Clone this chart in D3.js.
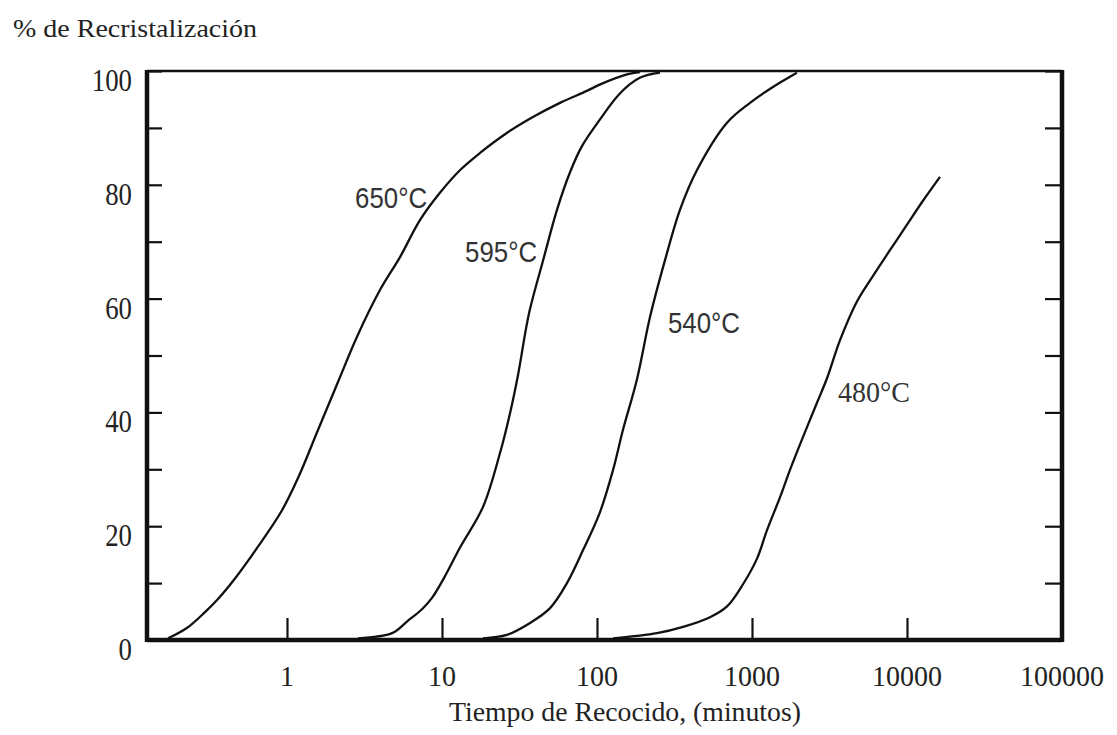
<!DOCTYPE html>
<html>
<head>
<meta charset="utf-8">
<title>% de Recristalización</title>
<script src="https://d3js.org/d3.v7.min.js"></script>
<style>
body { margin: 0; background: #fff; }
svg { display: block; }
</style>
</head>
<body>
<svg width="1117" height="735"></svg>
<script>
// curves: [tiempo (min), % recristalizado]
var curve650 = [[0.171,0.3],[0.226,2.1],[0.296,4.9],[0.359,7.2],[0.462,10.8],[0.65,16.4],[0.929,22.8],[1.18,28.5],[1.585,36.9],[2.13,45.3],[2.83,53.3],[3.98,61.5],[5.36,67.3],[7.21,73.8],[9.7,78.6],[13.1,82.6],[17.6,85.6],[26.2,89.1],[38.6,91.9],[57.7,94.4],[86.1,96.5],[104,97.6],[156,99.4],[189,99.8]];
var curve595 = [[2.87,0.3],[4.76,1.2],[6.04,3.4],[7.43,5.4],[8.62,7.4],[10.4,11.1],[13.1,16.3],[18.4,23.4],[23.7,32.9],[27.5,39.9],[30.9,46.5],[36.5,57.5],[44.8,66.6],[55.2,75.6],[67,82.2],[80,86.8],[104,91.4],[141,96.1],[189,98.8],[255,99.7]];
var curve540 = [[18.4,0.3],[26.2,0.9],[37,3.0],[49.8,5.6],[64,10],[81.3,15.8],[104,22.3],[127,29.9],[147,36.9],[181,45.8],[220,56.8],[275,66.8],[343,75.6],[442,82.6],[690,90.9],[971,94.4],[1365,97.2],[1950,99.7]];
var curve480 = [[127,0.3],[244,1.2],[359,2.3],[536,4.0],[690,5.9],[875,9.8],[1077,14.3],[1250,19.3],[1517,25.1],[1759,29.9],[2135,35.7],[2626,41.7],[3048,46.0],[3698,52.7],[4757,59.5],[6040,64.0],[7762,68.5],[10000,73.0],[12680,77.2],[16330,81.4]];

var curves = [curve650, curve595, curve540, curve480];
var curveNames = ["650\u00B0C", "595\u00B0C", "540\u00B0C", "480\u00B0C"];
var labelAt = [[2.75, 76], [14.1, 66.4], [287, 54], [3590, 41.8]]; // start of each label, data units

var xTicks = [1, 10, 100, 1000, 10000];
var xTickLabels = ["1", "10", "100", "1000", "10000", "100000"];
var xLabelValues = [1, 10, 100, 1000, 10000, 100000];
var yTicks = d3.range(0, 101, 10);
var yLabelValues = [0, 20, 40, 60, 80, 100];

var svg = d3.select("svg");
var box = {left: 147, right: 1062, top: 71, bottom: 640};

var x = d3.scaleLog().domain([0.125, 100000]).range([box.left, box.right]);
var y = d3.scaleLinear().domain([0, 100]).range([box.bottom, box.top]);

var serif = "'Liberation Serif', 'Times New Roman', serif";
var sans = "'Liberation Sans Narrow', 'Liberation Sans', Arial, sans-serif";

// inward ticks on left, right and bottom
var gl = svg.append("g").attr("transform", "translate(" + box.left + ",0)")
  .call(d3.axisRight(y).tickValues(yTicks).tickSize(15).tickFormat(""));
var gr = svg.append("g").attr("transform", "translate(" + box.right + ",0)")
  .call(d3.axisLeft(y).tickValues(yTicks).tickSize(17).tickFormat(""));
var gb = svg.append("g").attr("transform", "translate(0," + box.bottom + ")")
  .call(d3.axisTop(x).tickValues(xTicks).tickSize(22).tickFormat(""));
[gl, gr, gb].forEach(function (g) {
  g.select(".domain").remove();
  g.selectAll(".tick line").attr("stroke", "#111").attr("stroke-width", 2.2);
});

// frame
svg.append("line").attr("x1", box.left).attr("x2", box.right).attr("y1", box.top).attr("y2", box.top)
  .attr("stroke", "#111").attr("stroke-width", 2.5);
svg.append("line").attr("x1", box.left).attr("x2", box.right).attr("y1", box.bottom).attr("y2", box.bottom)
  .attr("stroke", "#111").attr("stroke-width", 4.5);
svg.append("line").attr("x1", box.left).attr("x2", box.left).attr("y1", box.top - 1).attr("y2", box.bottom + 2)
  .attr("stroke", "#111").attr("stroke-width", 4.5);
svg.append("line").attr("x1", box.right).attr("x2", box.right).attr("y1", box.top - 1).attr("y2", box.bottom + 2)
  .attr("stroke", "#111").attr("stroke-width", 4.5);

// tick labels
svg.selectAll(".ylab").data(yLabelValues).enter().append("text")
  .attr("x", 132)
  .attr("y", function (d) { return y(d) + 20; })
  .attr("text-anchor", "end")
  .attr("font-family", serif).attr("font-size", 31).attr("fill", "#222")
  .attr("textLength", function (d) { return String(d).length * 13.4; })
  .attr("lengthAdjust", "spacingAndGlyphs")
  .text(function (d) { return d; });

svg.selectAll(".xlab").data(xLabelValues).enter().append("text")
  .attr("x", function (d) { return x(d); })
  .attr("y", 686)
  .attr("text-anchor", "middle")
  .attr("font-family", serif).attr("font-size", 30).attr("fill", "#222")
  .attr("textLength", function (d, i) { return xTickLabels[i].length * 14; })
  .attr("lengthAdjust", "spacingAndGlyphs")
  .text(function (d, i) { return xTickLabels[i]; });

// curves
var line = d3.line()
  .x(function (d) { return x(d[0]); })
  .y(function (d) { return y(d[1]); })
  .curve(d3.curveCatmullRom.alpha(0.5));

svg.selectAll(".curve").data(curves).enter().append("path")
  .attr("d", line)
  .attr("fill", "none")
  .attr("stroke", "#111")
  .attr("stroke-width", 2.3);

// curve labels
svg.selectAll(".clab").data(curveNames).enter().append("text")
  .attr("x", function (d, i) { return x(labelAt[i][0]); })
  .attr("y", function (d, i) { return y(labelAt[i][1]); })
  .attr("font-family", function (d, i) { return i == 3 ? serif : sans; })
  .attr("font-size", 30).attr("fill", "#333")
  .attr("textLength", 72)
  .attr("lengthAdjust", "spacingAndGlyphs")
  .text(function (d) { return d; });

// titles
svg.append("text")
  .attr("x", 13).attr("y", 37)
  .attr("font-family", serif).attr("font-size", 25).attr("fill", "#222")
  .attr("textLength", 244).attr("lengthAdjust", "spacingAndGlyphs")
  .text("% de Recristalización");

svg.append("text")
  .attr("x", 449).attr("y", 721)
  .attr("font-family", serif).attr("font-size", 28).attr("fill", "#222")
  .attr("textLength", 352).attr("lengthAdjust", "spacingAndGlyphs")
  .text("Tiempo de Recocido, (minutos)");
</script>
</body>
</html>
